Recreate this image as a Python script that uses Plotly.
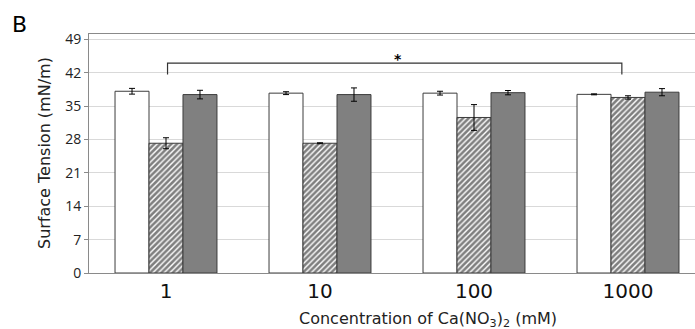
import plotly.graph_objects as go

categories = ["1", "10", "100", "1000"]
white_vals = [38.1, 37.7, 37.7, 37.45]
white_err = [0.6, 0.3, 0.4, 0.1]
hatch_vals = [27.2, 27.2, 32.6, 36.8]
hatch_err = [1.15, 0.1, 2.7, 0.35]
gray_vals = [37.4, 37.4, 37.8, 37.9]
gray_err = [0.9, 1.4, 0.45, 0.75]
y_ticks = [0, 7, 14, 21, 28, 35, 42, 49]
bracket_level = 44.0
bracket_drop = 41.6

xi = list(range(len(categories)))
outline = dict(color="#3c3c3c", width=1)
err = lambda e: dict(type="data", array=e, color="black", thickness=1, width=3)

fig = go.Figure()
fig.add_bar(x=xi, y=white_vals, error_y=err(white_err), name="Series A",
            marker=dict(color="white", line=outline))
fig.add_bar(x=xi, y=hatch_vals, error_y=err(hatch_err), name="Series B",
            marker=dict(color="white", line=outline,
                        pattern=dict(shape="/", fgcolor="#000000", bgcolor="white",
                                     size=4, solidity=0.65)))
fig.add_bar(x=xi, y=gray_vals, error_y=err(gray_err), name="Series C",
            marker=dict(color="#808080", line=outline))

# significance bracket between first and last category
x0, x1 = xi[0] + 0.01, xi[-1] - 0.04
fig.add_shape(type="path",
              path=f"M {x0} {bracket_drop} L {x0} {bracket_level} L {x1} {bracket_level} L {x1} {bracket_drop}",
              line=dict(color="#333", width=1.2), xref="x", yref="y")
fig.add_annotation(x=(x0 + x1) / 2 + 0.02, y=bracket_level, text="<b>*</b>", showarrow=False,
                   yanchor="bottom", yshift=-6, font=dict(size=14, color="black", family="DejaVu Sans"))

fig.add_annotation(x=-0.114, y=1.038, xref="paper", yref="paper", text="B", showarrow=False,
                   font=dict(size=22, color="black", family="DejaVu Sans"),
                   xanchor="center", yanchor="middle")
fig.add_annotation(x=-0.0734, y=0.5, xref="paper", yref="paper", text="Surface Tension (mN/m)",
                   textangle=-90, showarrow=False, xanchor="center", yanchor="middle",
                   font=dict(size=16, color="#222", family="DejaVu Sans"))
fig.add_annotation(x=0.559, y=-0.195, xref="paper", yref="paper",
                   text="Concentration of Ca(NO<sub>3</sub>)<sub>2</sub> (mM)",
                   showarrow=False, xanchor="center", yanchor="middle",
                   font=dict(size=16, color="#222", family="DejaVu Sans"))

fig.update_layout(
    width=695, height=329,
    margin=dict(l=89, r=0, t=34, b=56),
    paper_bgcolor="white", plot_bgcolor="white",
    barmode="group", bargap=0.338, bargroupgap=0,
    showlegend=False,
    font=dict(family="DejaVu Sans", color="#222"),
)
fig.update_xaxes(range=[-0.5, 3.435], tickvals=xi, ticktext=categories,
                 tickfont=dict(size=20, color="#111"), showgrid=False,
                 showline=True, linecolor="#8a8a8a", linewidth=1, mirror=True, ticks="")
fig.update_yaxes(range=[0, 50.1], tickvals=y_ticks, tickfont=dict(size=14, color="#222", family="Open Sans"),
                 showgrid=True, gridcolor="#d9d9d9", gridwidth=1,
                 showline=True, linecolor="#8a8a8a", linewidth=1, mirror=False,
                 ticks="outside", ticklen=4, tickcolor="#8a8a8a", zeroline=False)

fig.write_html("out.html", config={"displayModeBar": False},
               post_script="document.body.style.margin='0px';")
